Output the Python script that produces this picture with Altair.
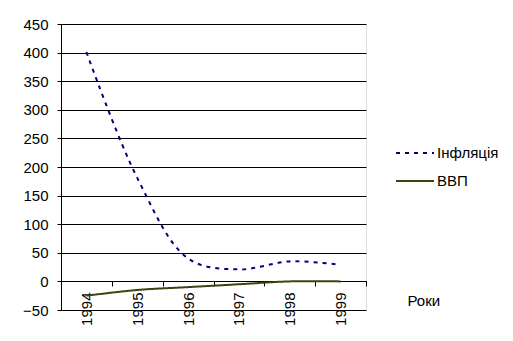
import altair as alt
import pandas as pd

years = ["1994", "1995", "1996", "1997", "1998", "1999"]
inflation = [401, 181, 40, 21, 35, 29]
gdp = [-25, -15, -10, -5, 0, 0]
series_names = ["Інфляція", "ВВП"]
y_ticks = [-50, 0, 50, 100, 150, 200, 250, 300, 350, 400, 450]

rows = []
for y, v in zip(years, inflation):
    rows.append({"Рік": y, "Значення": v, "Ряд": series_names[0]})
for y, v in zip(years, gdp):
    rows.append({"Рік": y, "Значення": v, "Ряд": series_names[1]})
df = pd.DataFrame(rows)

FONT = "Liberation Sans"

def legend():
    return alt.Legend(title=None, orient="none", legendX=334, legendY=109,
                      symbolType="stroke", symbolSize=1444,
                      symbolStrokeWidth=2, labelFontSize=15,
                      labelFont=FONT, labelColor="black",
                      rowPadding=-4, labelOffset=2, padding=0)

chart = alt.Chart(df).mark_line(strokeWidth=2, interpolate="catmull-rom").encode(
    x=alt.X("Рік:N", sort=years,
            scale=alt.Scale(paddingInner=0, paddingOuter=0),
            axis=alt.Axis(title="Роки", offset=-29, labelAngle=-90, labelAlign="right",
                          labelBaseline="middle", labelPadding=6, tickBand="extent",
                          tickSize=5, tickColor="black", domainColor="black",
                          labelFontSize=15, labelFont=FONT, labelColor="black",
                          titleFont=FONT, titleFontSize=15, titleFontWeight="normal",
                          titleAngle=0, titleAlign="left", titleBaseline="middle",
                          titleX=346, titleY=19, grid=False)),
    y=alt.Y("Значення:Q",
            scale=alt.Scale(domain=[-50, 450], nice=False, zero=False),
            axis=alt.Axis(title=None, values=y_ticks, tickSize=4, tickColor="black",
                          domainColor="black", gridColor="black", gridOpacity=1,
                          gridWidth=1, labelFontSize=15, labelFont=FONT,
                          labelColor="black", labelPadding=9)),
    color=alt.Color("Ряд:N",
                    scale=alt.Scale(domain=series_names, range=["#000080", "#404010"]),
                    legend=legend()),
    strokeDash=alt.StrokeDash("Ряд:N",
                              scale=alt.Scale(domain=series_names, range=[[4, 5], [1, 0]]),
                              legend=legend()),
).properties(
    width=305, height=286,
    autosize=alt.AutoSizeParams(type="none"),
    padding={"left": 61, "top": 24, "right": 147, "bottom": 31},
).configure_view(stroke=None).configure(background="white")

chart.save("out.html", embed_options={"renderer": "svg", "actions": False})
